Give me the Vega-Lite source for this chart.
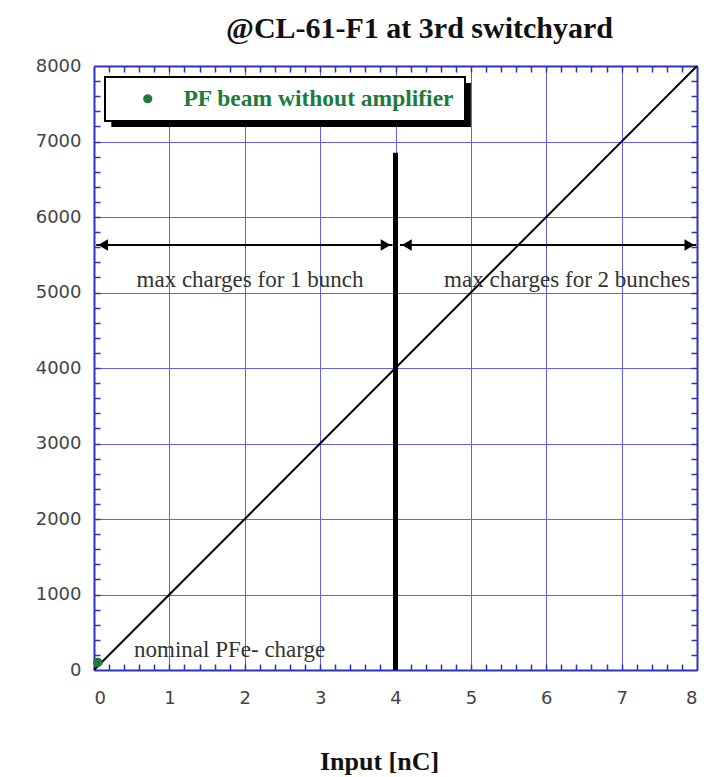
{
  "$schema": "https://vega.github.io/schema/vega-lite/v6.json",
  "autosize": "none",
  "width": 603,
  "height": 604,
  "padding": {"left": 94, "top": 66, "right": 16, "bottom": 107},
  "background": "white",
  "title": {
    "text": "@CL-61-F1 at 3rd switchyard",
    "font": "Liberation Serif",
    "fontSize": 30,
    "fontWeight": "bold",
    "color": "#111",
    "anchor": "middle",
    "dx": 24,
    "offset": 13
  },
  "config": {
    "view": {"stroke": null},
    "axis": {
      "labelFont": "DejaVu Sans",
      "labelFontSize": 18,
      "labelColor": "#444",
      "gridColor": "#6060ee",
      "gridOpacity": 1,
      "gridWidth": 1,
      "domainColor": "#3030c0",
      "domainWidth": 2,
      "tickColor": "#3030c0",
      "tickWidth": 1.5
    },
    "legend": {
      "orient": "top-left",
      "offset": 11,
      "fillColor": "white",
      "strokeColor": "black",
      "strokeWidth": 2,
      "padding": 10,
      "symbolOffset": 21,
      "labelOffset": 24,
      "labelFont": "Liberation Serif",
      "labelFontWeight": "bold",
      "labelFontSize": 23.5,
      "labelColor": "#1e7b3a",
      "labelLimit": 500,
      "symbolSize": 60,
      "symbolType": "circle",
      "symbolFillColor": "#1e7b3a",
      "symbolStrokeColor": "#1e7b3a",
      "cornerRadius": 0
    }
  },
  "resolve": {"axis": {"x": "independent", "y": "independent"}},
  "layer": [
    {
      "data": {"values": [{"sx": 0.23, "sx2": 5.0, "sy": 7775, "sy2": 7192}]},
      "mark": {"type": "rect", "color": "black"},
      "encoding": {
        "x": {"field": "sx", "type": "quantitative", "axis": null},
        "x2": {"field": "sx2"},
        "y": {"field": "sy", "type": "quantitative", "axis": null},
        "y2": {"field": "sy2"}
      }
    },
    {
      "data": {"values": [{"x": 0, "y": 0}, {"x": 8, "y": 8000}]},
      "mark": {"type": "line", "color": "black", "strokeWidth": 2},
      "encoding": {
        "x": {
          "field": "x", "type": "quantitative",
          "scale": {"domain": [0, 8], "nice": false, "zero": false},
          "axis": {
            "orient": "bottom", "title": "Input [nC]",
            "values": [0, 1, 2, 3, 4, 5, 6, 7, 8],
            "ticks": false, "grid": true, "domain": true,
            "labelPadding": 19,
            "titleFont": "Liberation Serif", "titleFontSize": 26, "titleFontWeight": "bold",
            "titleColor": "#111", "titlePadding": 41, "titleX": 285
          }
        },
        "y": {
          "field": "y", "type": "quantitative",
          "scale": {"domain": [0, 8000], "nice": false, "zero": false},
          "axis": {
            "orient": "left", "title": null, "format": "d",
            "values": [0, 1000, 2000, 3000, 4000, 5000, 6000, 7000, 8000],
            "ticks": false, "grid": true, "domain": true,
            "labelPadding": 13
          }
        }
      }
    },
    {
      "data": {"values": [{"x": 4, "y": 0, "y2": 6850}]},
      "mark": {"type": "rule", "color": "black", "strokeWidth": 5},
      "encoding": {
        "x": {
          "field": "x", "type": "quantitative",
          "axis": {
            "orient": "bottom", "title": null, "labels": false, "grid": false, "domain": false,
            "ticks": true, "tickSize": -6,
            "values": [0.2, 0.4, 0.6, 0.8, 1.2, 1.4, 1.6, 1.8, 2.2, 2.4, 2.6, 2.8, 3.2, 3.4, 3.6, 3.8, 4.2, 4.4, 4.6, 4.8, 5.2, 5.4, 5.6, 5.8, 6.2, 6.4, 6.6, 6.8, 7.2, 7.4, 7.6, 7.8, 1, 2, 3, 4, 5, 6, 7]
          }
        },
        "y": {
          "field": "y", "type": "quantitative",
          "axis": {
            "orient": "left", "title": null, "labels": false, "grid": false, "domain": false,
            "ticks": true, "tickSize": -6,
            "values": [200, 400, 600, 800, 1200, 1400, 1600, 1800, 2200, 2400, 2600, 2800, 3200, 3400, 3600, 3800, 4200, 4400, 4600, 4800, 5200, 5400, 5600, 5800, 6200, 6400, 6600, 6800, 7200, 7400, 7600, 7800, 1000, 2000, 3000, 4000, 5000, 6000, 7000]
          }
        },
        "y2": {"field": "y2"}
      }
    },
    {
      "data": {"values": [{"x": 0.03, "x2": 3.96, "y": 5630}, {"x": 4.06, "x2": 7.99, "y": 5630}]},
      "mark": {"type": "rule", "color": "black", "strokeWidth": 2},
      "encoding": {
        "x": {
          "field": "x", "type": "quantitative",
          "axis": {
            "orient": "top", "title": null, "labels": false, "grid": false, "domain": true,
            "ticks": true, "tickSize": -6,
            "values": [0.2, 0.4, 0.6, 0.8, 1.2, 1.4, 1.6, 1.8, 2.2, 2.4, 2.6, 2.8, 3.2, 3.4, 3.6, 3.8, 4.2, 4.4, 4.6, 4.8, 5.2, 5.4, 5.6, 5.8, 6.2, 6.4, 6.6, 6.8, 7.2, 7.4, 7.6, 7.8, 1, 2, 3, 4, 5, 6, 7]
          }
        },
        "x2": {"field": "x2"},
        "y": {
          "field": "y", "type": "quantitative",
          "axis": {
            "orient": "right", "title": null, "labels": false, "grid": false, "domain": true,
            "ticks": true, "tickSize": -6,
            "values": [200, 400, 600, 800, 1200, 1400, 1600, 1800, 2200, 2400, 2600, 2800, 3200, 3400, 3600, 3800, 4200, 4400, 4600, 4800, 5200, 5400, 5600, 5800, 6200, 6400, 6600, 6800, 7200, 7400, 7600, 7800, 1000, 2000, 3000, 4000, 5000, 6000, 7000]
          }
        }
      }
    },
    {
      "data": {"values": [
        {"x": 0.12, "y": 5630, "dir": "left"},
        {"x": 3.87, "y": 5630, "dir": "right"},
        {"x": 4.15, "y": 5630, "dir": "left"},
        {"x": 7.9, "y": 5630, "dir": "right"}
      ]},
      "mark": {"type": "point", "filled": true, "color": "black", "opacity": 1, "size": 130},
      "encoding": {
        "x": {"field": "x", "type": "quantitative", "axis": null},
        "y": {"field": "y", "type": "quantitative", "axis": null},
        "shape": {
          "field": "dir", "type": "nominal",
          "scale": {"domain": ["left", "right"], "range": ["triangle-left", "triangle-right"]},
          "legend": null
        }
      }
    },
    {
      "data": {"values": [
        {"x": 2.07, "y": 5165, "label": "max charges for 1 bunch"},
        {"x": 1.8, "y": 265, "label": "nominal PFe- charge"}
      ]},
      "mark": {"type": "text", "font": "Liberation Serif", "fontSize": 23, "color": "#333", "align": "center", "baseline": "middle"},
      "encoding": {
        "x": {"field": "x", "type": "quantitative", "axis": null},
        "y": {"field": "y", "type": "quantitative", "axis": null},
        "text": {"field": "label"}
      }
    },
    {
      "data": {"values": [
        {"x": 7.91, "y": 5165, "label": "max charges for 2 bunches"}
      ]},
      "mark": {"type": "text", "font": "Liberation Serif", "fontSize": 23, "color": "#333", "align": "right", "baseline": "middle"},
      "encoding": {
        "x": {"field": "x", "type": "quantitative", "axis": null},
        "y": {"field": "y", "type": "quantitative", "axis": null},
        "text": {"field": "label"}
      }
    },
    {
      "data": {"values": [{"x": 0.05, "y": 100, "series": "PF beam without amplifier"}]},
      "mark": {"type": "point", "filled": true, "size": 90, "opacity": 1},
      "encoding": {
        "x": {"field": "x", "type": "quantitative", "axis": null},
        "y": {"field": "y", "type": "quantitative", "axis": null},
        "color": {
          "field": "series", "type": "nominal",
          "scale": {"domain": ["PF beam without amplifier"], "range": ["#1e7b3a"]},
          "legend": {"title": null}
        }
      }
    }
  ]
}
